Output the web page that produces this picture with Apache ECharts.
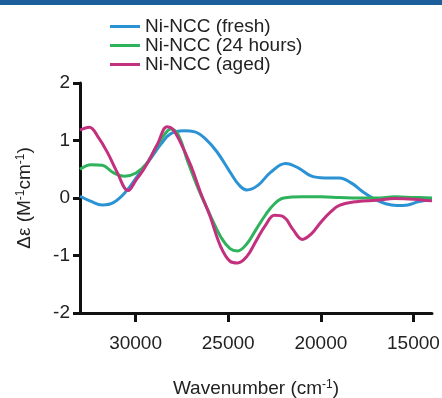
<!DOCTYPE html>
<html>
<head>
<meta charset="utf-8">
<script src="https://cdn.jsdelivr.net/npm/echarts@6/dist/echarts.min.js"></script>
<style>
  html, body { margin: 0; padding: 0; background: #fff; }
  #chart { width: 442px; height: 398px; }
</style>
</head>
<body>
<div id="chart"></div>
<script>
// wavenumber (cm-1) and delta epsilon
const freshWn = [33000, 32400, 31800, 31200, 30500, 29900, 29200, 28600, 28100, 27400, 26800, 26200, 25600, 24900, 24400, 24000, 23400, 22700, 21900, 21200, 20500, 19800, 19000, 18300, 17700, 17100, 16500, 15900, 15300, 14700, 14000]
const freshVals = [0.03, -0.06, -0.12, -0.08, 0.12, 0.38, 0.68, 0.95, 1.12, 1.17, 1.15, 1.02, 0.8, 0.45, 0.22, 0.14, 0.22, 0.45, 0.6, 0.52, 0.38, 0.35, 0.35, 0.25, 0.1, -0.02, -0.1, -0.13, -0.12, -0.06, -0.03]

const hoursWn = [33000, 32400, 31800, 31200, 30600, 30000, 29400, 28900, 28400, 28100, 27700, 27200, 26600, 26000, 25400, 24900, 24500, 24000, 23500, 23000, 22500, 22000, 21000, 20000, 19000, 18000, 17000, 16000, 15000, 14000]
const hoursVals = [0.5, 0.58, 0.57, 0.44, 0.38, 0.43, 0.6, 0.88, 1.12, 1.2, 1.1, 0.65, 0.15, -0.28, -0.68, -0.88, -0.92, -0.8, -0.55, -0.3, -0.1, 0, 0.02, 0.02, 0.01, 0, 0, 0.02, 0.01, 0]

const agedWn = [33000, 32500, 32000, 31500, 31000, 30400, 30000, 29600, 29200, 28800, 28300, 28000, 27600, 27000, 26500, 26000, 25400, 24900, 24500, 24000, 23500, 23000, 22500, 22000, 21500, 21000, 20500, 20000, 19500, 19000, 18000, 17000, 16000, 15000, 14000]
const agedVals = [1.18, 1.23, 1.05, 0.78, 0.45, 0.13, 0.3, 0.48, 0.7, 0.95, 1.24, 1.2, 0.98, 0.55, 0.1, -0.3, -0.85, -1.1, -1.13, -1.02, -0.75, -0.48, -0.3, -0.33, -0.55, -0.72, -0.62, -0.42, -0.25, -0.13, -0.06, -0.04, -0.01, -0.02, -0.05]

const seriesNames = ['Ni-NCC (fresh)', 'Ni-NCC (24 hours)', 'Ni-NCC (aged)']
const seriesColors = ['#2b93d4', '#2eb25c', '#c3307e']
const xTicks = [30000, 25000, 20000, 15000]

const zip = (xs, ys) => xs.map((x, i) => [x, ys[i]])
const font = 'Liberation Sans, Arial, sans-serif'

const chart = echarts.init(document.getElementById('chart'))
const allData = [zip(freshWn, freshVals), zip(hoursWn, hoursVals), zip(agedWn, agedVals)]

const supRich = {
  a: { fontFamily: font, fontSize: 19, color: '#222' },
  s: { fontFamily: font, fontSize: 12, color: '#222', verticalAlign: 'top', padding: [0, 0, 8, 0] }
}

chart.setOption({
  animation: false,
  color: seriesColors,
  graphic: [
    { type: 'rect', left: 0, top: 0, shape: { width: 442, height: 5 }, style: { fill: '#1c5f9b' } }
  ],
  legend: {
    orient: 'vertical',
    left: 105,
    top: 12,
    itemGap: 0,
    itemWidth: 30,
    itemHeight: 3,
    icon: 'rect',
    textStyle: { fontFamily: font, fontSize: 19, color: '#222', lineHeight: 19 },
    data: seriesNames
  },
  grid: { left: 80, right: 10, top: 83, bottom: 85, outerBoundsMode: 'none' },
  xAxis: {
    type: 'value',
    inverse: true,
    min: 14000,
    max: 33000,
    name: '{a|Wavenumber (cm}{s|-1}{a|)}',
    nameLocation: 'middle',
    nameGap: 66,
    nameTextStyle: { rich: supRich },
    axisLine: { onZero: false, lineStyle: { color: '#111', width: 3 } },
    axisTick: { show: true, length: 9, lineStyle: { color: '#111', width: 3 }, customValues: xTicks },
    axisLabel: {
      fontFamily: font, fontSize: 19, color: '#222', margin: 21,
      customValues: xTicks,
      formatter: v => String(v)
    },
    splitLine: { show: false }
  },
  yAxis: {
    type: 'value',
    min: -2,
    max: 2,
    interval: 1,
    name: '{a|Δε (M}{s|-1}{a|cm}{s|-1}{a|)}',
    nameLocation: 'middle',
    nameGap: 45,
    nameRotate: 90,
    nameTextStyle: { rich: supRich },
    axisLine: { show: true, onZero: false, lineStyle: { color: '#111', width: 3 } },
    axisTick: { show: true, length: 7, lineStyle: { color: '#111', width: 3 } },
    axisLabel: { fontFamily: font, fontSize: 19, color: '#222', margin: 10 },
    splitLine: { show: false }
  },
  series: seriesNames.map((name, i) => ({
    name: name,
    type: 'line',
    data: allData[i],
    smooth: 0.4,
    showSymbol: false,
    lineStyle: { width: 3, color: seriesColors[i] },
    z: 2 + i
  }))
})
</script>
</body>
</html>
